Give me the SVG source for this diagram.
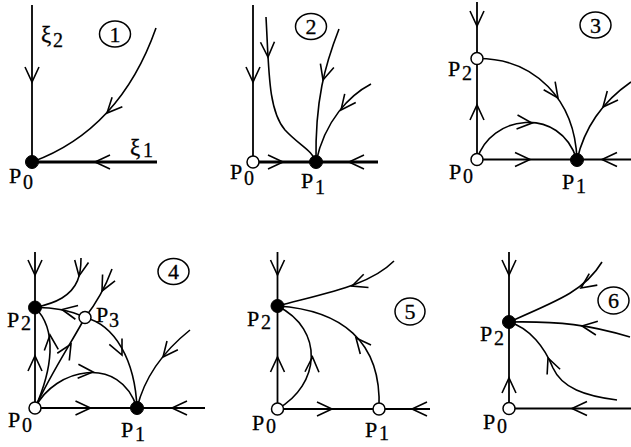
<svg xmlns="http://www.w3.org/2000/svg" xmlns:xlink="http://www.w3.org/1999/xlink" width="631" height="447" viewBox="0 0 631 447">
<style>
.ax{fill:none;stroke:#000;stroke-width:1.8}
.tk{fill:none;stroke:#000;stroke-width:3}
.cv{fill:none;stroke:#000;stroke-width:1.6}
.ar{fill:none;stroke:#000;stroke-width:1.6;stroke-linejoin:miter}
.open{fill:#fff;stroke:#000;stroke-width:1.5}
.full{fill:#000;stroke:#000;stroke-width:1}
.num{fill:none;stroke:#000;stroke-width:1.5}
.lb{font-size:22px;stroke:#000;stroke-width:0.3}
.sb{font-size:20px}
.nt{font-size:22px;text-anchor:middle;stroke:#000;stroke-width:0.3}
.xi{font-size:23px;stroke:#000;stroke-width:0.3}
</style>
<defs>
<path id="a" class="ar" d="M-15,-7 L0,0 L-15,7"/>
</defs>
<rect width="631" height="447" fill="#fff"/>
<g id="connectors">
<path class="ax" d="M32,5 V162"/>
<path class="tk" d="M32,162 H157"/>
<path class="cv" d="M156,28 Q120,130 32,162"/>
<use xlink:href="#a" transform="translate(32,82) rotate(90)"/>
<use xlink:href="#a" transform="translate(95,162) rotate(180)"/>
<use xlink:href="#a" transform="translate(107,113) rotate(133)"/>
<path class="ax" d="M253,5 V162"/>
<path class="tk" d="M253,162 H378"/>
<path class="cv" d="M266,17 C269,70 268,110 285,130 C300,146 312,150 316,162"/>
<path class="cv" d="M339,29 C325,65 315,100 316,162"/>
<path class="cv" d="M371,84 C350,95 325,120 316,162"/>
<use xlink:href="#a" transform="translate(253,82) rotate(90)"/>
<use xlink:href="#a" transform="translate(283,162) rotate(0)"/>
<use xlink:href="#a" transform="translate(349,162) rotate(180)"/>
<use xlink:href="#a" transform="translate(268,57) rotate(88)"/>
<use xlink:href="#a" transform="translate(323,80) rotate(106)"/>
<use xlink:href="#a" transform="translate(341,110) rotate(128)"/>
<path class="ax" d="M477,2 V159.5"/>
<path class="ax" d="M477,159.5 H631"/>
<path class="cv" d="M477,58.5 C535,58 575,100 577,160"/>
<path class="cv" d="M477,159.5 C490,115 560,105 577,160"/>
<path class="cv" d="M631,82 C605,100 585,125 577,160"/>
<use xlink:href="#a" transform="translate(477,26) rotate(90)"/>
<use xlink:href="#a" transform="translate(477,105) rotate(-90)"/>
<use xlink:href="#a" transform="translate(530,159.5) rotate(0)"/>
<use xlink:href="#a" transform="translate(602,159.5) rotate(180)"/>
<use xlink:href="#a" transform="translate(558,98) rotate(55)"/>
<use xlink:href="#a" transform="translate(532,123) rotate(4)"/>
<use xlink:href="#a" transform="translate(603,107) rotate(130)"/>
<path class="ax" d="M35,252 V408"/>
<path class="ax" d="M35,408 H205"/>
<path class="cv" d="M81,258 C81,275 78,288 62,298 C52,304 42,306 35,307.5"/>
<path class="cv" d="M85,317.5 C70,310 50,307 35,307.5"/>
<path class="cv" d="M112,269 C105,288 95,305 85,317.5"/>
<path class="cv" d="M35,408 C50,375 70,345 85,317.5"/>
<path class="cv" d="M35,408 C52,370 58,330 35,307.5"/>
<path class="cv" d="M35,408 C55,368 120,354 137,408"/>
<path class="cv" d="M85,317.5 C115,325 135,360 137,408"/>
<path class="cv" d="M190,330 C165,350 145,375 137,408"/>
<use xlink:href="#a" transform="translate(35,275) rotate(90)"/>
<use xlink:href="#a" transform="translate(35,356) rotate(-90)"/>
<use xlink:href="#a" transform="translate(90.5,408) rotate(0)"/>
<use xlink:href="#a" transform="translate(172,408) rotate(180)"/>
<use xlink:href="#a" transform="translate(79,276) rotate(100)"/>
<use xlink:href="#a" transform="translate(62,309.5) rotate(191)"/>
<use xlink:href="#a" transform="translate(102,291) rotate(117)"/>
<use xlink:href="#a" transform="translate(71,344) rotate(-59)"/>
<use xlink:href="#a" transform="translate(50,335) rotate(-95)"/>
<use xlink:href="#a" transform="translate(93,372) rotate(3)"/>
<use xlink:href="#a" transform="translate(122,355) rotate(65)"/>
<use xlink:href="#a" transform="translate(163,357) rotate(129)"/>
<path class="ax" d="M277.5,252 V409"/>
<path class="ax" d="M277.5,409 H430"/>
<path class="cv" d="M394,261 C370,285 330,292 277.5,306"/>
<path class="cv" d="M379,409 C382,340 340,310 277.5,306"/>
<path class="cv" d="M277.5,409 C320,385 325,330 277.5,306"/>
<use xlink:href="#a" transform="translate(277.5,275) rotate(90)"/>
<use xlink:href="#a" transform="translate(277.5,357) rotate(-90)"/>
<use xlink:href="#a" transform="translate(332,409) rotate(0)"/>
<use xlink:href="#a" transform="translate(412,409) rotate(180)"/>
<use xlink:href="#a" transform="translate(352,286) rotate(160)"/>
<use xlink:href="#a" transform="translate(356,338) rotate(-130)"/>
<use xlink:href="#a" transform="translate(312.5,357) rotate(-88)"/>
<path class="ax" d="M509,252 V408.5"/>
<path class="ax" d="M509,408.5 H631"/>
<path class="cv" d="M602,262 C585,290 560,300 509,322"/>
<path class="cv" d="M630,337 C590,325 560,321 509,322"/>
<path class="cv" d="M617,400 C585,396 562,388 553,368 C545,348 530,328 509,322"/>
<use xlink:href="#a" transform="translate(509,275) rotate(90)"/>
<use xlink:href="#a" transform="translate(509,378) rotate(-90)"/>
<use xlink:href="#a" transform="translate(572,408.5) rotate(180)"/>
<use xlink:href="#a" transform="translate(581,288) rotate(145)"/>
<use xlink:href="#a" transform="translate(582,326) rotate(188)"/>
<use xlink:href="#a" transform="translate(548,358) rotate(-112)"/>
</g>
<g font-family="'Liberation Serif', 'DejaVu Serif', serif" fill="#000">
<g id="axis-labels">
<text class="xi" x="41" y="42">ξ<tspan class="sb" x="53" y="47">2</tspan></text>
<text class="xi" x="130" y="155">ξ<tspan class="sb" x="143" y="157">1</tspan></text>
</g>
<g id="n1"><ellipse class="num" cx="115" cy="34" rx="15.5" ry="13"/><text class="nt" x="115" y="41.5">1</text></g>
<g id="n2"><ellipse class="num" cx="311" cy="26.5" rx="15.5" ry="13"/><text class="nt" x="311" y="34">2</text></g>
<g id="n3"><ellipse class="num" cx="595.5" cy="25" rx="15.5" ry="13"/><text class="nt" x="595.5" y="32.5">3</text></g>
<g id="n4"><ellipse class="num" cx="173.5" cy="271.5" rx="15.5" ry="13"/><text class="nt" x="173.5" y="279">4</text></g>
<g id="n5"><ellipse class="num" cx="410" cy="311.5" rx="15" ry="13.5"/><text class="nt" x="410" y="319">5</text></g>
<g id="n6"><ellipse class="num" cx="613.5" cy="300.5" rx="15.5" ry="13.5"/><text class="nt" x="613.5" y="308">6</text></g>
<g id="p1-P0"><circle class="full" cx="32" cy="162" r="6.5"/><text class="lb" x="9" y="183">P<tspan class="sb" x="23" y="189">0</tspan></text></g>
<g id="p2-P0"><circle class="open" cx="253" cy="162" r="6"/><text class="lb" x="230" y="179">P<tspan class="sb" x="244" y="185">0</tspan></text></g>
<g id="p2-P1"><circle class="full" cx="316" cy="162" r="6.5"/><text class="lb" x="301" y="188">P<tspan class="sb" x="315" y="194">1</tspan></text></g>
<g id="p3-P2"><circle class="open" cx="477" cy="58.5" r="6"/><text class="lb" x="448" y="76">P<tspan class="sb" x="462" y="80">2</tspan></text></g>
<g id="p3-P0"><circle class="open" cx="477" cy="159.5" r="6"/><text class="lb" x="449" y="179">P<tspan class="sb" x="463" y="183">0</tspan></text></g>
<g id="p3-P1"><circle class="full" cx="577" cy="160" r="6.5"/><text class="lb" x="562" y="189">P<tspan class="sb" x="576" y="193">1</tspan></text></g>
<g id="p4-P2"><circle class="full" cx="35" cy="307.5" r="6.5"/><text class="lb" x="7" y="327">P<tspan class="sb" x="21" y="330">2</tspan></text></g>
<g id="p4-P3"><circle class="open" cx="85" cy="317.5" r="6"/><text class="lb" x="96" y="322">P<tspan class="sb" x="109" y="327">3</tspan></text></g>
<g id="p4-P0"><circle class="open" cx="35" cy="408" r="6"/><text class="lb" x="8" y="427">P<tspan class="sb" x="22" y="432">0</tspan></text></g>
<g id="p4-P1"><circle class="full" cx="137" cy="408" r="6.5"/><text class="lb" x="121" y="437">P<tspan class="sb" x="135" y="441">1</tspan></text></g>
<g id="p5-P2"><circle class="full" cx="277.5" cy="306" r="6.5"/><text class="lb" x="247" y="326">P<tspan class="sb" x="261" y="329">2</tspan></text></g>
<g id="p5-P0"><circle class="open" cx="277.5" cy="409" r="6"/><text class="lb" x="252" y="430">P<tspan class="sb" x="266" y="433">0</tspan></text></g>
<g id="p5-P1"><circle class="open" cx="379" cy="409" r="6"/><text class="lb" x="365" y="437">P<tspan class="sb" x="379" y="440">1</tspan></text></g>
<g id="p6-P2"><circle class="full" cx="509" cy="322" r="6.5"/><text class="lb" x="480" y="341">P<tspan class="sb" x="494" y="345">2</tspan></text></g>
<g id="p6-P0"><circle class="open" cx="509" cy="408.5" r="6"/><text class="lb" x="483" y="429">P<tspan class="sb" x="497" y="433">0</tspan></text></g>
</g>
</svg>
